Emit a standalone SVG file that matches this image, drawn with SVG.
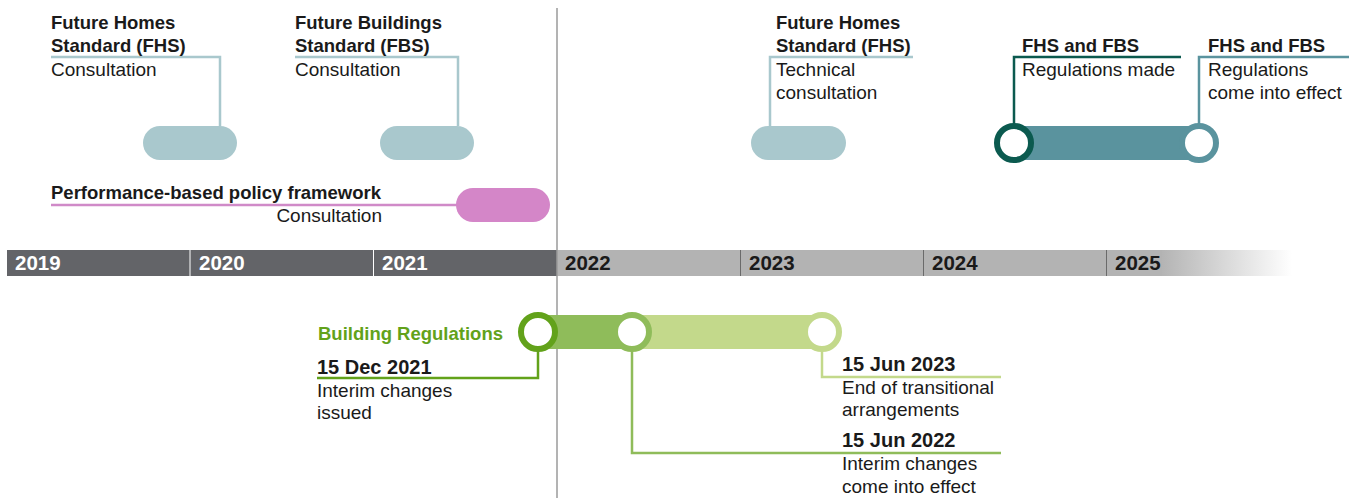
<svg xmlns="http://www.w3.org/2000/svg" width="1359" height="498" viewBox="0 0 1359 498">
  <style>
    text { font-family: "Liberation Sans", Arial, sans-serif; fill: #1a1a1a; }
    .b { font-weight: bold; font-size: 18.5px; }
    .d { font-weight: bold; font-size: 20px; }
    .r { font-size: 19px; }
    .yr { font-weight: bold; font-size: 20.5px; }
    .yw { fill: #ffffff; }
    .ln { fill: none; stroke-width: 2.5; }
    .blue { stroke: #a9c8cd; }
    .ring { fill: #ffffff; stroke-width: 6; }
  </style>
  <defs>
    <linearGradient id="fade" x1="0" x2="1" y1="0" y2="0">
      <stop offset="0" stop-color="#b3b3b3"/>
      <stop offset="1" stop-color="#b3b3b3" stop-opacity="0"/>
    </linearGradient>
  </defs>
  <rect width="1359" height="498" fill="#ffffff"/>

  <!-- year axis -->
  <g id="axis">
    <rect x="7" y="250" width="550" height="26" fill="#636468"/>
    <rect x="557" y="250" width="605" height="26" fill="#b3b3b3"/>
    <rect x="1160" y="250" width="132" height="26" fill="url(#fade)"/>
    <line x1="190" y1="250" x2="190" y2="276" stroke="#ffffff" stroke-width="1"/>
    <line x1="373.5" y1="250" x2="373.5" y2="276" stroke="#ffffff" stroke-width="1"/>
    <line x1="740.5" y1="250" x2="740.5" y2="276" stroke="#6a6a6a" stroke-width="1"/>
    <line x1="923.5" y1="250" x2="923.5" y2="276" stroke="#6a6a6a" stroke-width="1"/>
    <line x1="1106.5" y1="250" x2="1106.5" y2="276" stroke="#6a6a6a" stroke-width="1"/>
    <text class="yr yw" x="15" y="270">2019</text>
    <text class="yr yw" x="199" y="270">2020</text>
    <text class="yr yw" x="382" y="270">2021</text>
    <text class="yr" x="565" y="270">2022</text>
    <text class="yr" x="749" y="270">2023</text>
    <text class="yr" x="932" y="270">2024</text>
    <text class="yr" x="1115" y="270">2025</text>
  </g>

  <!-- present-day marker -->
  <line id="today" x1="557" y1="8" x2="557" y2="498" stroke="#9a9a9a" stroke-width="1.5"/>

  <!-- connectors -->
  <g id="connectors">
    <polyline class="ln blue" points="51,57 220,57 220,126"/>
    <polyline class="ln blue" points="295,57 458,57 458,126"/>
    <polyline class="ln blue" points="913,57 770,57 770,126"/>
    <polyline class="ln" stroke="#d08ac8" points="51,205 460,205"/>
    <polyline class="ln" stroke="#0b5a4f" points="1181,57 1014,57 1014,126"/>
    <polyline class="ln" stroke="#5a939e" points="1349,57 1199,57 1199,126"/>
    <polyline class="ln" stroke="#62a21a" points="317,378 538,378 538,349"/>
    <polyline class="ln" stroke="#8fbc5a" points="632,349 632,453 1001,453"/>
    <polyline class="ln" stroke="#c3d98b" points="822,349 822,377 1001,377"/>
  </g>

  <g id="fhs-consultation">
    <rect x="143" y="126" width="94" height="34" rx="17" fill="#a9c8cd"/>
    <text class="b" x="51" y="29">Future Homes</text>
    <text class="b" x="51" y="52">Standard (FHS)</text>
    <text class="r" x="51" y="76">Consultation</text>
  </g>

  <g id="fbs-consultation">
    <rect x="380" y="126" width="94" height="34" rx="17" fill="#a9c8cd"/>
    <text class="b" x="295" y="29">Future Buildings</text>
    <text class="b" x="295" y="52">Standard (FBS)</text>
    <text class="r" x="295" y="76">Consultation</text>
  </g>

  <g id="policy-framework">
    <rect x="456" y="188" width="94" height="34" rx="17" fill="#d486c8"/>
    <text class="b" x="51" y="199">Performance-based policy framework</text>
    <text class="r" x="382" y="222" text-anchor="end">Consultation</text>
  </g>

  <g id="fhs-technical">
    <rect x="751" y="126" width="95" height="34" rx="17" fill="#a9c8cd"/>
    <text class="b" x="776" y="29">Future Homes</text>
    <text class="b" x="776" y="52">Standard (FHS)</text>
    <text class="r" x="776" y="76">Technical</text>
    <text class="r" x="776" y="99">consultation</text>
  </g>

  <g id="regulations">
    <rect x="1014" y="126" width="185" height="34" fill="#5a939e"/>
    <circle class="ring" cx="1014" cy="143" r="17" stroke="#0b5a4f"/>
    <circle class="ring" cx="1199" cy="143" r="17" stroke="#5a939e"/>
    <text class="b" x="1022" y="52">FHS and FBS</text>
    <text class="r" x="1022" y="76">Regulations made</text>
    <text class="b" x="1208" y="52">FHS and FBS</text>
    <text class="r" x="1208" y="76">Regulations</text>
    <text class="r" x="1208" y="99">come into effect</text>
  </g>

  <g id="building-regulations">
    <rect x="632" y="315" width="190" height="34" fill="#c3d98b"/>
    <rect x="538" y="315" width="94" height="34" fill="#8fbc5a"/>
    <circle class="ring" cx="822" cy="332" r="17" stroke="#c3d98b"/>
    <circle class="ring" cx="632" cy="332" r="17" stroke="#8fbc5a"/>
    <circle class="ring" cx="538" cy="332" r="17" stroke="#62a21a"/>
    <text class="b" x="503" y="340" text-anchor="end" style="fill:#62a21a">Building Regulations</text>
    <text class="d" x="317" y="374">15 Dec 2021</text>
    <text class="r" x="317" y="397">Interim changes</text>
    <text class="r" x="317" y="419">issued</text>
    <text class="d" x="842" y="371">15 Jun 2023</text>
    <text class="r" x="842" y="394">End of transitional</text>
    <text class="r" x="842" y="416">arrangements</text>
    <text class="d" x="842" y="447">15 Jun 2022</text>
    <text class="r" x="842" y="470">Interim changes</text>
    <text class="r" x="842" y="493">come into effect</text>
  </g>
</svg>
